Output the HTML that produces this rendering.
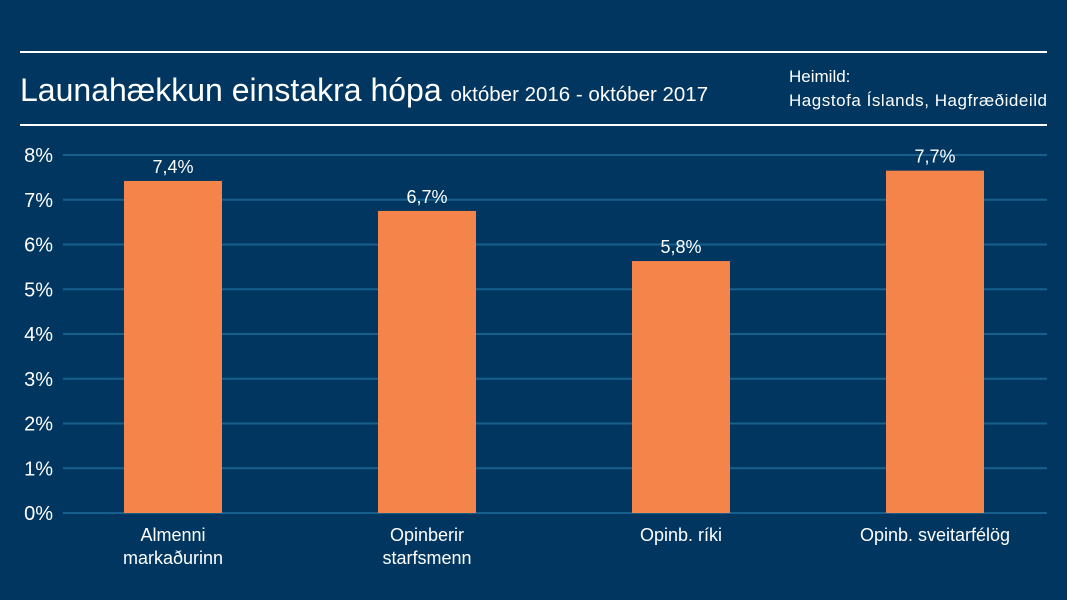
<!DOCTYPE html>
<html><head><meta charset="utf-8"><style>
body{margin:0;width:1067px;height:600px;background:#003660;overflow:hidden;font-family:"Liberation Sans",sans-serif;color:#fff}
svg{display:block}
</style></head><body>
<svg id="c" width="1067" height="600">
<line x1="20" y1="52" x2="1047" y2="52" stroke="#fff" stroke-width="2"/>
<line x1="20" y1="125" x2="1047" y2="125" stroke="#fff" stroke-width="2"/>
<text x="20" y="101" font-size="32" fill="#fff">Launahækkun einstakra hópa <tspan font-size="20.5">október 2016 - október 2017</tspan></text>
<text x="789" y="82" font-size="17" fill="#fff">Heimild:</text>
<text x="789" y="106" font-size="17" fill="#fff" textLength="258">Hagstofa Íslands, Hagfræðideild</text>
<g id="grid"></g><g id="bars"></g>
</svg>
<script>
const categories=[["Almenni","markaðurinn"],["Opinberir","starfsmenn"],["Opinb. ríki"],["Opinb. sveitarfélög"]];
const values=[7.42,6.75,5.63,7.65];
const valueLabels=["7,4%","6,7%","5,8%","7,7%"];
const ticks=[0,1,2,3,4,5,6,7,8];
const tickLabels=["0%","1%","2%","3%","4%","5%","6%","7%","8%"];
const NS="http://www.w3.org/2000/svg";
const y=v=>513-v*44.75;
const x=i=>173+i*254;
const g=document.getElementById('grid'),b=document.getElementById('bars');
function mk(tag,attrs,parent,text){const e=document.createElementNS(NS,tag);for(const k in attrs)e.setAttribute(k,attrs[k]);if(text!==undefined)e.textContent=text;parent.appendChild(e);return e;}
ticks.forEach((t,i)=>{
 const l=mk('line',{x1:63,x2:1047,y1:y(t),y2:y(t),stroke:'#17608e','stroke-width':2},g);
 
 
 const tx=mk('text',{x:53,y:y(t)+7,'font-size':20,fill:'#fff','text-anchor':'end'},g,tickLabels[i]);
 
 
});
values.forEach((v,i)=>{
 const r=mk('rect',{x:x(i)-49,y:y(v),width:98,height:513-y(v),fill:'#f4844a'},b);
 
 
 const t=mk('text',{x:x(i),y:y(v)-8,'font-size':18,fill:'#fff','text-anchor':'middle'},b,valueLabels[i]);
 
 
 categories[i].forEach((line,j)=>{
  const c=mk('text',{x:x(i),y:541+j*23,'font-size':18,fill:'#fff','text-anchor':'middle'},b,line);
  
  
 });
});
</script>
</body></html>
